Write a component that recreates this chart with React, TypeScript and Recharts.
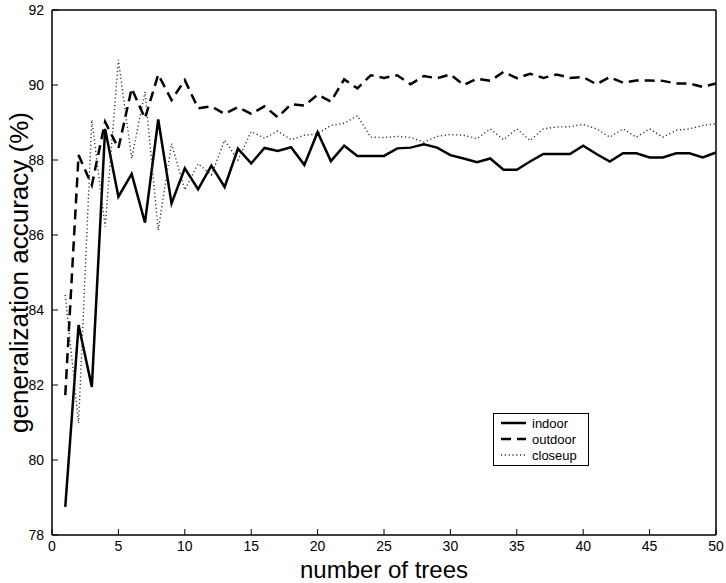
import { LineChart, Line, XAxis, YAxis, Legend } from "recharts";

// number of trees in the ensemble
const trees = [
  1, 2, 3, 4, 5, 6, 7, 8, 9, 10, 11, 12, 13, 14, 15, 16, 17, 18, 19, 20, 21, 22, 23, 24, 25,
  26, 27, 28, 29, 30, 31, 32, 33, 34, 35, 36, 37, 38, 39, 40, 41, 42, 43, 44, 45, 46, 47, 48, 49, 50,
];

const indoor = [
  78.75, 83.6, 81.95, 88.83, 87.02, 87.63, 86.33, 89.08, 86.84, 87.78,
  87.22, 87.85, 87.28, 88.3, 87.91, 88.32, 88.24, 88.34, 87.87, 88.74,
  87.97, 88.38, 88.11, 88.11, 88.11, 88.31, 88.33, 88.42, 88.33, 88.13,
  88.04, 87.94, 88.04, 87.74, 87.74, 87.96, 88.16, 88.16, 88.16, 88.38,
  88.16, 87.96, 88.18, 88.18, 88.07, 88.07, 88.18, 88.18, 88.07, 88.2,
];

const outdoor = [
  81.73, 88.13, 87.33, 89.02, 88.31, 89.91, 89.11, 90.28, 89.6, 90.13,
  89.38, 89.43, 89.23, 89.41, 89.23, 89.43, 89.14, 89.49, 89.45, 89.74,
  89.56, 90.15, 89.91, 90.26, 90.19, 90.26, 90.02, 90.24, 90.18, 90.28,
  90.0, 90.17, 90.11, 90.35, 90.18, 90.3, 90.19, 90.28, 90.19, 90.21,
  90.02, 90.21, 90.06, 90.12, 90.12, 90.11, 90.04, 90.04, 89.95, 90.04,
];

const closeup = [
  84.4, 80.98, 89.07, 86.22, 90.67, 88.04, 89.82, 86.13, 88.44, 87.2,
  87.9, 87.6, 88.53, 88.0, 88.76, 88.58, 88.77, 88.54, 88.66, 88.7,
  88.92, 88.98, 89.18, 88.61, 88.6, 88.63, 88.6, 88.48, 88.63, 88.68,
  88.66, 88.57, 88.83, 88.54, 88.83, 88.52, 88.83, 88.88, 88.89, 88.95,
  88.83, 88.61, 88.83, 88.61, 88.83, 88.61, 88.79, 88.83, 88.92, 88.97,
];

const xTicks = [0, 5, 10, 15, 20, 25, 30, 35, 40, 45, 50];
const yTicks = [78, 80, 82, 84, 86, 88, 90, 92];

const data = trees.map((n, i) => ({
  n,
  indoor: indoor[i],
  outdoor: outdoor[i],
  closeup: closeup[i],
}));

const series = [
  { key: "indoor", stroke: "#000", width: 2.5, dash: undefined },
  { key: "outdoor", stroke: "#000", width: 2.5, dash: "10 6" },
  { key: "closeup", stroke: "#333", width: 1.4, dash: "1.2 2.6" },
];

const FONT = '"Liberation Sans", Arial, Helvetica, sans-serif';

const LegendBox = () => (
  <div
    style={{
      border: "1px solid #000",
      background: "#fff",
      padding: "1px 0 2px",
      fontSize: 13,
      fontFamily: FONT,
      color: "#000",
      lineHeight: "15px",
    }}
  >
    {series.map((s) => (
      <div key={s.key} style={{ display: "flex", alignItems: "center", height: 16 }}>
        <svg width={38} height={16} style={{ display: "block" }}>
          <line
            x1={7}
            x2={32}
            y1={8}
            y2={8}
            stroke={s.stroke}
            strokeWidth={s.width}
            strokeDasharray={s.dash}
          />
        </svg>
        <span>{s.key}</span>
      </div>
    ))}
  </div>
);

const YTitle = (props: any) => {
  const vb = props.viewBox;
  const cx = vb.x + 16;
  const cy = vb.y + vb.height / 2;
  return (
    <text
      x={cx}
      y={cy}
      transform={`rotate(-90, ${cx}, ${cy})`}
      textAnchor="middle"
      fontSize={26}
      fill="#000"
      fontFamily={FONT}
    >
      generalization accuracy (%)
    </text>
  );
};

export default function App() {
  const tickStyle = { fontSize: 14, fill: "#000", fontFamily: FONT };
  const axisLine = { stroke: "#000", strokeWidth: 1.5 };
  return (
    <div style={{ position: "absolute", left: 0, top: 0, background: "#fff", fontFamily: FONT }}>
      <LineChart width={726} height={583} data={data} margin={{ top: 9, right: 9, bottom: 0, left: 12 }}>
        <XAxis
          dataKey="n"
          type="number"
          domain={[0, 50]}
          ticks={xTicks}
          interval={0}
          height={48}
          tickSize={-6}
          tickMargin={12}
          tick={tickStyle}
          axisLine={axisLine}
          tickLine={{ stroke: "#000" }}
          label={{ value: "number of trees", position: "insideBottom", offset: 5, fontSize: 24, fill: "#000" }}
        />
        <XAxis
          xAxisId="top"
          orientation="top"
          dataKey="n"
          type="number"
          domain={[0, 50]}
          ticks={xTicks}
          interval={0}
          height={1}
          tickSize={-6}
          tick={false}
          axisLine={axisLine}
          tickLine={{ stroke: "#000" }}
        />
        <YAxis
          type="number"
          domain={[78, 92]}
          ticks={yTicks}
          interval={0}
          width={40}
          tickSize={-6}
          tickMargin={14}
          tick={tickStyle}
          axisLine={axisLine}
          tickLine={{ stroke: "#000" }}
          label={{ position: "center", content: YTitle }}
        />
        <YAxis
          yAxisId="right"
          orientation="right"
          type="number"
          domain={[78, 92]}
          ticks={yTicks}
          interval={0}
          width={1}
          tickSize={-6}
          tick={false}
          axisLine={axisLine}
          tickLine={{ stroke: "#000" }}
        />
        <Legend
          layout="vertical"
          align="center"
          verticalAlign="middle"
          content={LegendBox}
          wrapperStyle={{ left: 493, top: 413, width: 96 }}
        />
        {series.map((s) => (
          <Line
            key={s.key}
            dataKey={s.key}
            type="linear"
            stroke={s.stroke}
            strokeWidth={s.width}
            strokeDasharray={s.dash}
            strokeLinejoin="miter"
            dot={false}
            activeDot={false}
            isAnimationActive={false}
          />
        ))}
      </LineChart>
    </div>
  );
}
